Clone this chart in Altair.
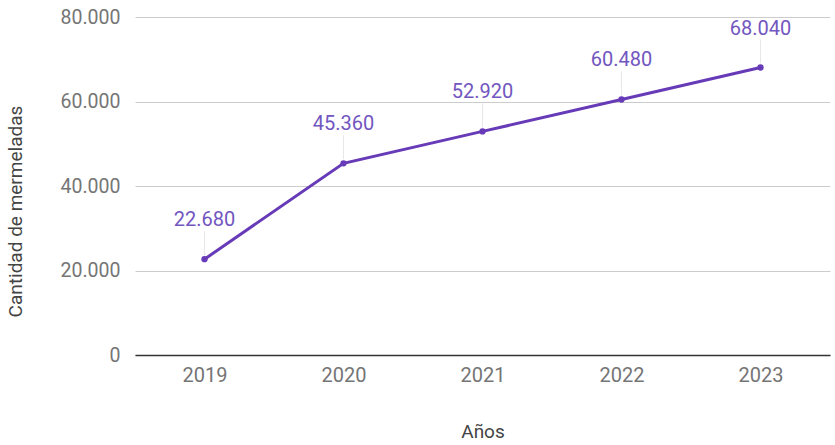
import altair as alt
import pandas as pd

years = ["2019", "2020", "2021", "2022", "2023"]
values = [22680, 45360, 52920, 60480, 68040]
labels = ["22.680", "45.360", "52.920", "60.480", "68.040"]

df = pd.DataFrame({"Año": years, "Valor": values, "Etiqueta": labels})

PURPLE = "#673ab7"
FONT = "Roboto"

x = alt.X("Año:N", title="Años", sort=years,
          scale=alt.Scale(type="point", padding=0.5),
          axis=alt.Axis(labelAngle=0, labelFont=FONT, labelFontSize=20, labelColor="#757575",
                        labelPadding=10, ticks=False, domain=True, domainColor="#333333",
                        domainWidth=1.5, grid=False,
                        titleFont=FONT, titleFontSize=19, titleColor="#444444",
                        titleFontWeight="normal", titlePadding=37))
y = alt.Y("Valor:Q", title="Cantidad de mermeladas",
          scale=alt.Scale(domain=[0, 80000], nice=False),
          axis=alt.Axis(values=[0, 20000, 40000, 60000, 80000],
                        labelExpr="replace(format(datum.value, ','), ',', '.')",
                        labelFont=FONT, labelFontSize=19.5, labelColor="#757575",
                        labelPadding=15, ticks=False, domain=False,
                        gridColor="#cccccc", gridWidth=1,
                        titleFont=FONT, titleFontSize=19, titleColor="#444444",
                        titleFontWeight="normal", titleX=-110, titleY=194))

base = alt.Chart(df)

# short vertical leader lines between each point and its label
leader = base.mark_tick(color="#dddddd", thickness=1, size=24, orient="vertical", yOffset=-16).encode(
    x=x, y=y)

line = base.mark_line(color=PURPLE, strokeWidth=3).encode(x=x, y=y)
pts = base.mark_point(color=PURPLE, filled=True, opacity=1, size=40).encode(x=x, y=y)
text = base.mark_text(color="#7256c0", font=FONT, fontSize=20, dy=-39, baseline="middle").encode(
    x=x, y=y, text="Etiqueta:N")

chart = alt.layer(leader, line, pts, text).properties(
    width=695, height=338,
    autosize=alt.AutoSizeParams(type="none"),
    padding={"left": 135, "top": 17, "right": 5, "bottom": 90},
).configure_view(stroke=None)

chart.save("out.html", embed_options={"renderer": "svg", "actions": False})
